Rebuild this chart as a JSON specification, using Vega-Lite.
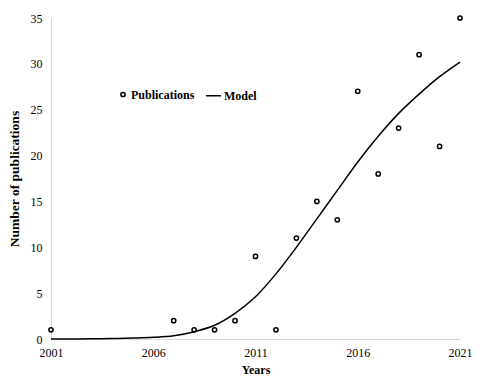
{
  "$schema": "https://vega.github.io/schema/vega-lite/v6.json",
  "autosize": "none",
  "width": 409,
  "height": 321,
  "padding": {"left": 51, "top": 18, "right": 20, "bottom": 43},
  "background": "white",
  "config": {
    "view": {"stroke": null},
    "font": "Liberation Serif",
    "axis": {"labelFont": "Liberation Serif", "titleFont": "Liberation Serif", "labelColor": "#000", "titleColor": "#000", "domainColor": "#d9d9d9", "grid": false, "ticks": false, "labelFontSize": 12, "titleFontSize": 12, "titleFontWeight": "bold"},
    "legend": {"labelFont": "Liberation Serif", "labelFontSize": 12, "labelFontWeight": "bold", "labelColor": "#000"}
  },
  "data": {"values": [
    {"series": "Publications", "year": 2001, "value": 1},
    {"series": "Publications", "year": 2007, "value": 2},
    {"series": "Publications", "year": 2008, "value": 1},
    {"series": "Publications", "year": 2009, "value": 1},
    {"series": "Publications", "year": 2010, "value": 2},
    {"series": "Publications", "year": 2011, "value": 9},
    {"series": "Publications", "year": 2012, "value": 1},
    {"series": "Publications", "year": 2013, "value": 11},
    {"series": "Publications", "year": 2014, "value": 15},
    {"series": "Publications", "year": 2015, "value": 13},
    {"series": "Publications", "year": 2016, "value": 27},
    {"series": "Publications", "year": 2017, "value": 18},
    {"series": "Publications", "year": 2018, "value": 23},
    {"series": "Publications", "year": 2019, "value": 31},
    {"series": "Publications", "year": 2020, "value": 21},
    {"series": "Publications", "year": 2021, "value": 35},
    {"series": "Model", "year": 2001, "value": 0.0},
    {"series": "Model", "year": 2002, "value": 0.0},
    {"series": "Model", "year": 2003, "value": 0.02},
    {"series": "Model", "year": 2004, "value": 0.05},
    {"series": "Model", "year": 2005, "value": 0.1},
    {"series": "Model", "year": 2006, "value": 0.18},
    {"series": "Model", "year": 2007, "value": 0.35},
    {"series": "Model", "year": 2008, "value": 0.8},
    {"series": "Model", "year": 2009, "value": 1.5},
    {"series": "Model", "year": 2010, "value": 2.8},
    {"series": "Model", "year": 2011, "value": 4.6},
    {"series": "Model", "year": 2012, "value": 7.1},
    {"series": "Model", "year": 2013, "value": 10.0},
    {"series": "Model", "year": 2014, "value": 13.1},
    {"series": "Model", "year": 2015, "value": 16.2},
    {"series": "Model", "year": 2016, "value": 19.3},
    {"series": "Model", "year": 2017, "value": 22.1},
    {"series": "Model", "year": 2018, "value": 24.6},
    {"series": "Model", "year": 2019, "value": 26.7},
    {"series": "Model", "year": 2020, "value": 28.6},
    {"series": "Model", "year": 2021, "value": 30.2}
  ]},
  "encoding": {
    "x": {"field": "year", "type": "quantitative", "title": "Years", "scale": {"domain": [2001, 2021], "nice": false, "zero": false}, "axis": {"values": [2001, 2006, 2011, 2016, 2021], "format": "d", "labelPadding": 8, "titlePadding": 6, "labelFlush": false}},
    "y": {"field": "value", "type": "quantitative", "title": "Number of publications", "scale": {"domain": [0, 35], "nice": false}, "axis": {"values": [0, 5, 10, 15, 20, 25, 30, 35], "labelPadding": 9, "titlePadding": 9, "titleFontSize": 13.5}}
  },
  "layer": [
    {
      "transform": [{"filter": "datum.series === 'Model'"}],
      "mark": {"type": "line", "color": "black", "strokeWidth": 1.5, "interpolate": "monotone"}
    },
    {
      "transform": [{"filter": "datum.series === 'Publications'"}],
      "mark": {"type": "point", "filled": false, "color": "black", "strokeWidth": 1.5, "opacity": 1},
      "encoding": {
        "shape": {"field": "series", "type": "nominal", "scale": {"domain": ["Publications", "Model"], "range": ["circle", "stroke"]}, "legend": {"orient": "none", "legendX": 66, "legendY": 69, "direction": "horizontal", "title": null, "symbolStrokeColor": "black", "symbolStrokeWidth": 1.5, "symbolFillColor": "transparent", "columnPadding": 8, "labelOffset": 2}},
        "size": {"field": "series", "type": "nominal", "scale": {"domain": ["Publications", "Model"], "range": [18, 225]}}
      }
    }
  ]
}
